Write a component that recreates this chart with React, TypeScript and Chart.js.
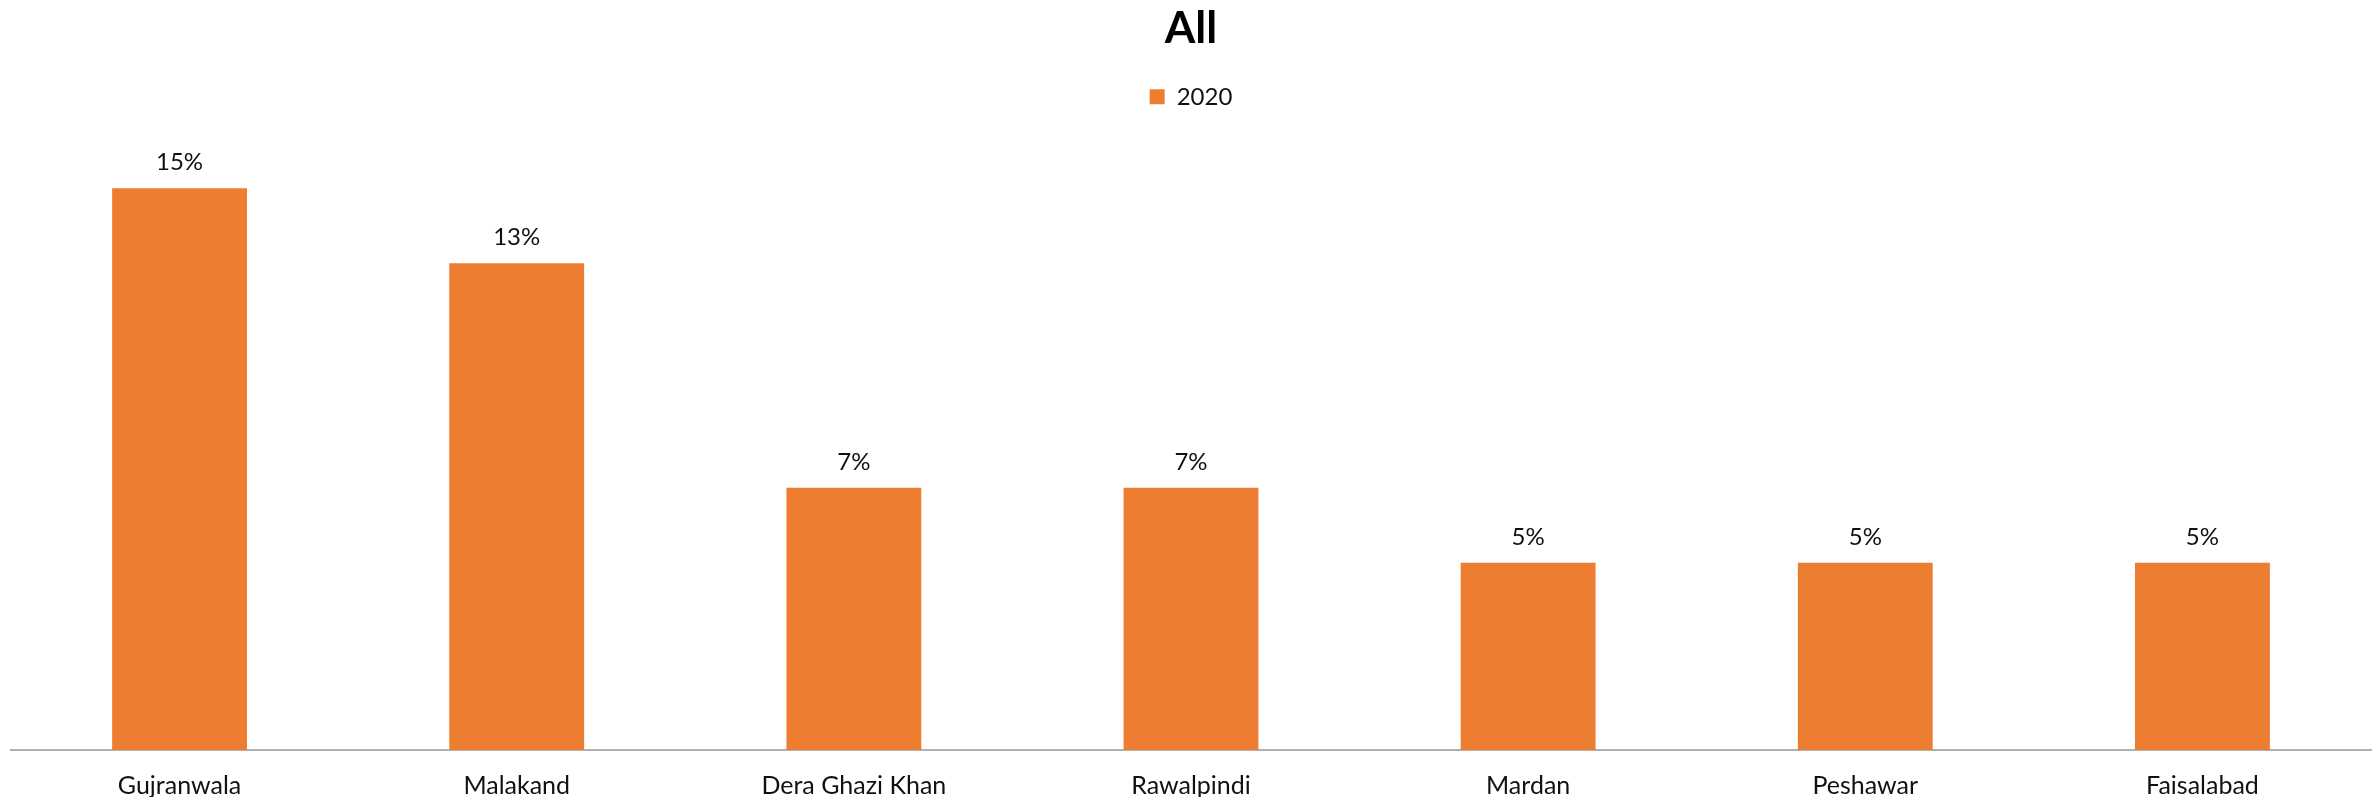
import React, { useEffect, useRef } from "react";
import { Chart, registerables } from "chart.js";

Chart.register(...registerables);

const categories = ["Gujranwala", "Malakand", "Dera Ghazi Khan", "Rawalpindi", "Mardan", "Peshawar", "Faisalabad"];
const seriesLabel = "2020";
const values2020 = [15, 13, 7, 7, 5, 5, 5];
const titleText = "All";

const FONT = "Lato, 'Open Sans', sans-serif";

const valueLabels = {
  id: "valueLabels",
  afterDatasetsDraw(chart: any) {
    const ctx = chart.ctx;
    const meta = chart.getDatasetMeta(0);
    ctx.save();
    ctx.font = `24px ${FONT}`;
    ctx.fillStyle = "#111";
    ctx.textAlign = "center";
    ctx.textBaseline = "alphabetic";
    meta.data.forEach((bar: any, i: number) => {
      ctx.fillText(`${values2020[i]}%`, bar.x, bar.y - 18);
    });
    ctx.restore();
  },
};

const legendSpacer = {
  id: "legendSpacer",
  beforeInit(chart: any) {
    const legend = chart.legend;
    if (!legend) return;
    const orig = legend.fit;
    legend.fit = function () {
      orig.call(this);
      this.height += 32;
    };
  },
};

export default function App() {
  const ref = useRef<HTMLCanvasElement | null>(null);
  useEffect(() => {
    document.body.style.margin = "0";
    document.body.style.overflow = "hidden";
    const chart = new Chart(ref.current as HTMLCanvasElement, {
      type: "bar",
      data: {
        labels: categories,
        datasets: [
          {
            label: seriesLabel,
            data: values2020,
            backgroundColor: "#ED7D31",
            borderWidth: 0,
            categoryPercentage: 1,
            barPercentage: 0.4,
          },
        ],
      },
      options: {
        responsive: false,
        animation: false,
        layout: { padding: { left: 11, right: 6, top: 0, bottom: -25 } },
        plugins: {
          title: {
            display: true,
            text: titleText,
            color: "#000",
            font: { family: FONT, size: 44, weight: "bold" },
            padding: { top: 2, bottom: 20 },
          },
          legend: {
            display: true,
            position: "top",
            labels: {
              boxWidth: 15,
              boxHeight: 15,
              color: "#111",
              font: { family: FONT, size: 24 },
              padding: 10,
            },
          },
          tooltip: { enabled: false },
        },
        scales: {
          x: {
            grid: { display: false, drawTicks: false },
            border: { display: true, color: "#b0b0b0", width: 2 },
            ticks: { color: "#111", font: { family: FONT, size: 25 }, padding: 21, maxRotation: 0, autoSkip: false },
          },
          y: {
            display: false,
            min: 0,
            max: 16,
          },
        },
      },
      plugins: [valueLabels, legendSpacer],
    });
    return () => chart.destroy();
  }, []);
  return <canvas ref={ref} width={2377} height={797} style={{ display: "block" }} />;
}
